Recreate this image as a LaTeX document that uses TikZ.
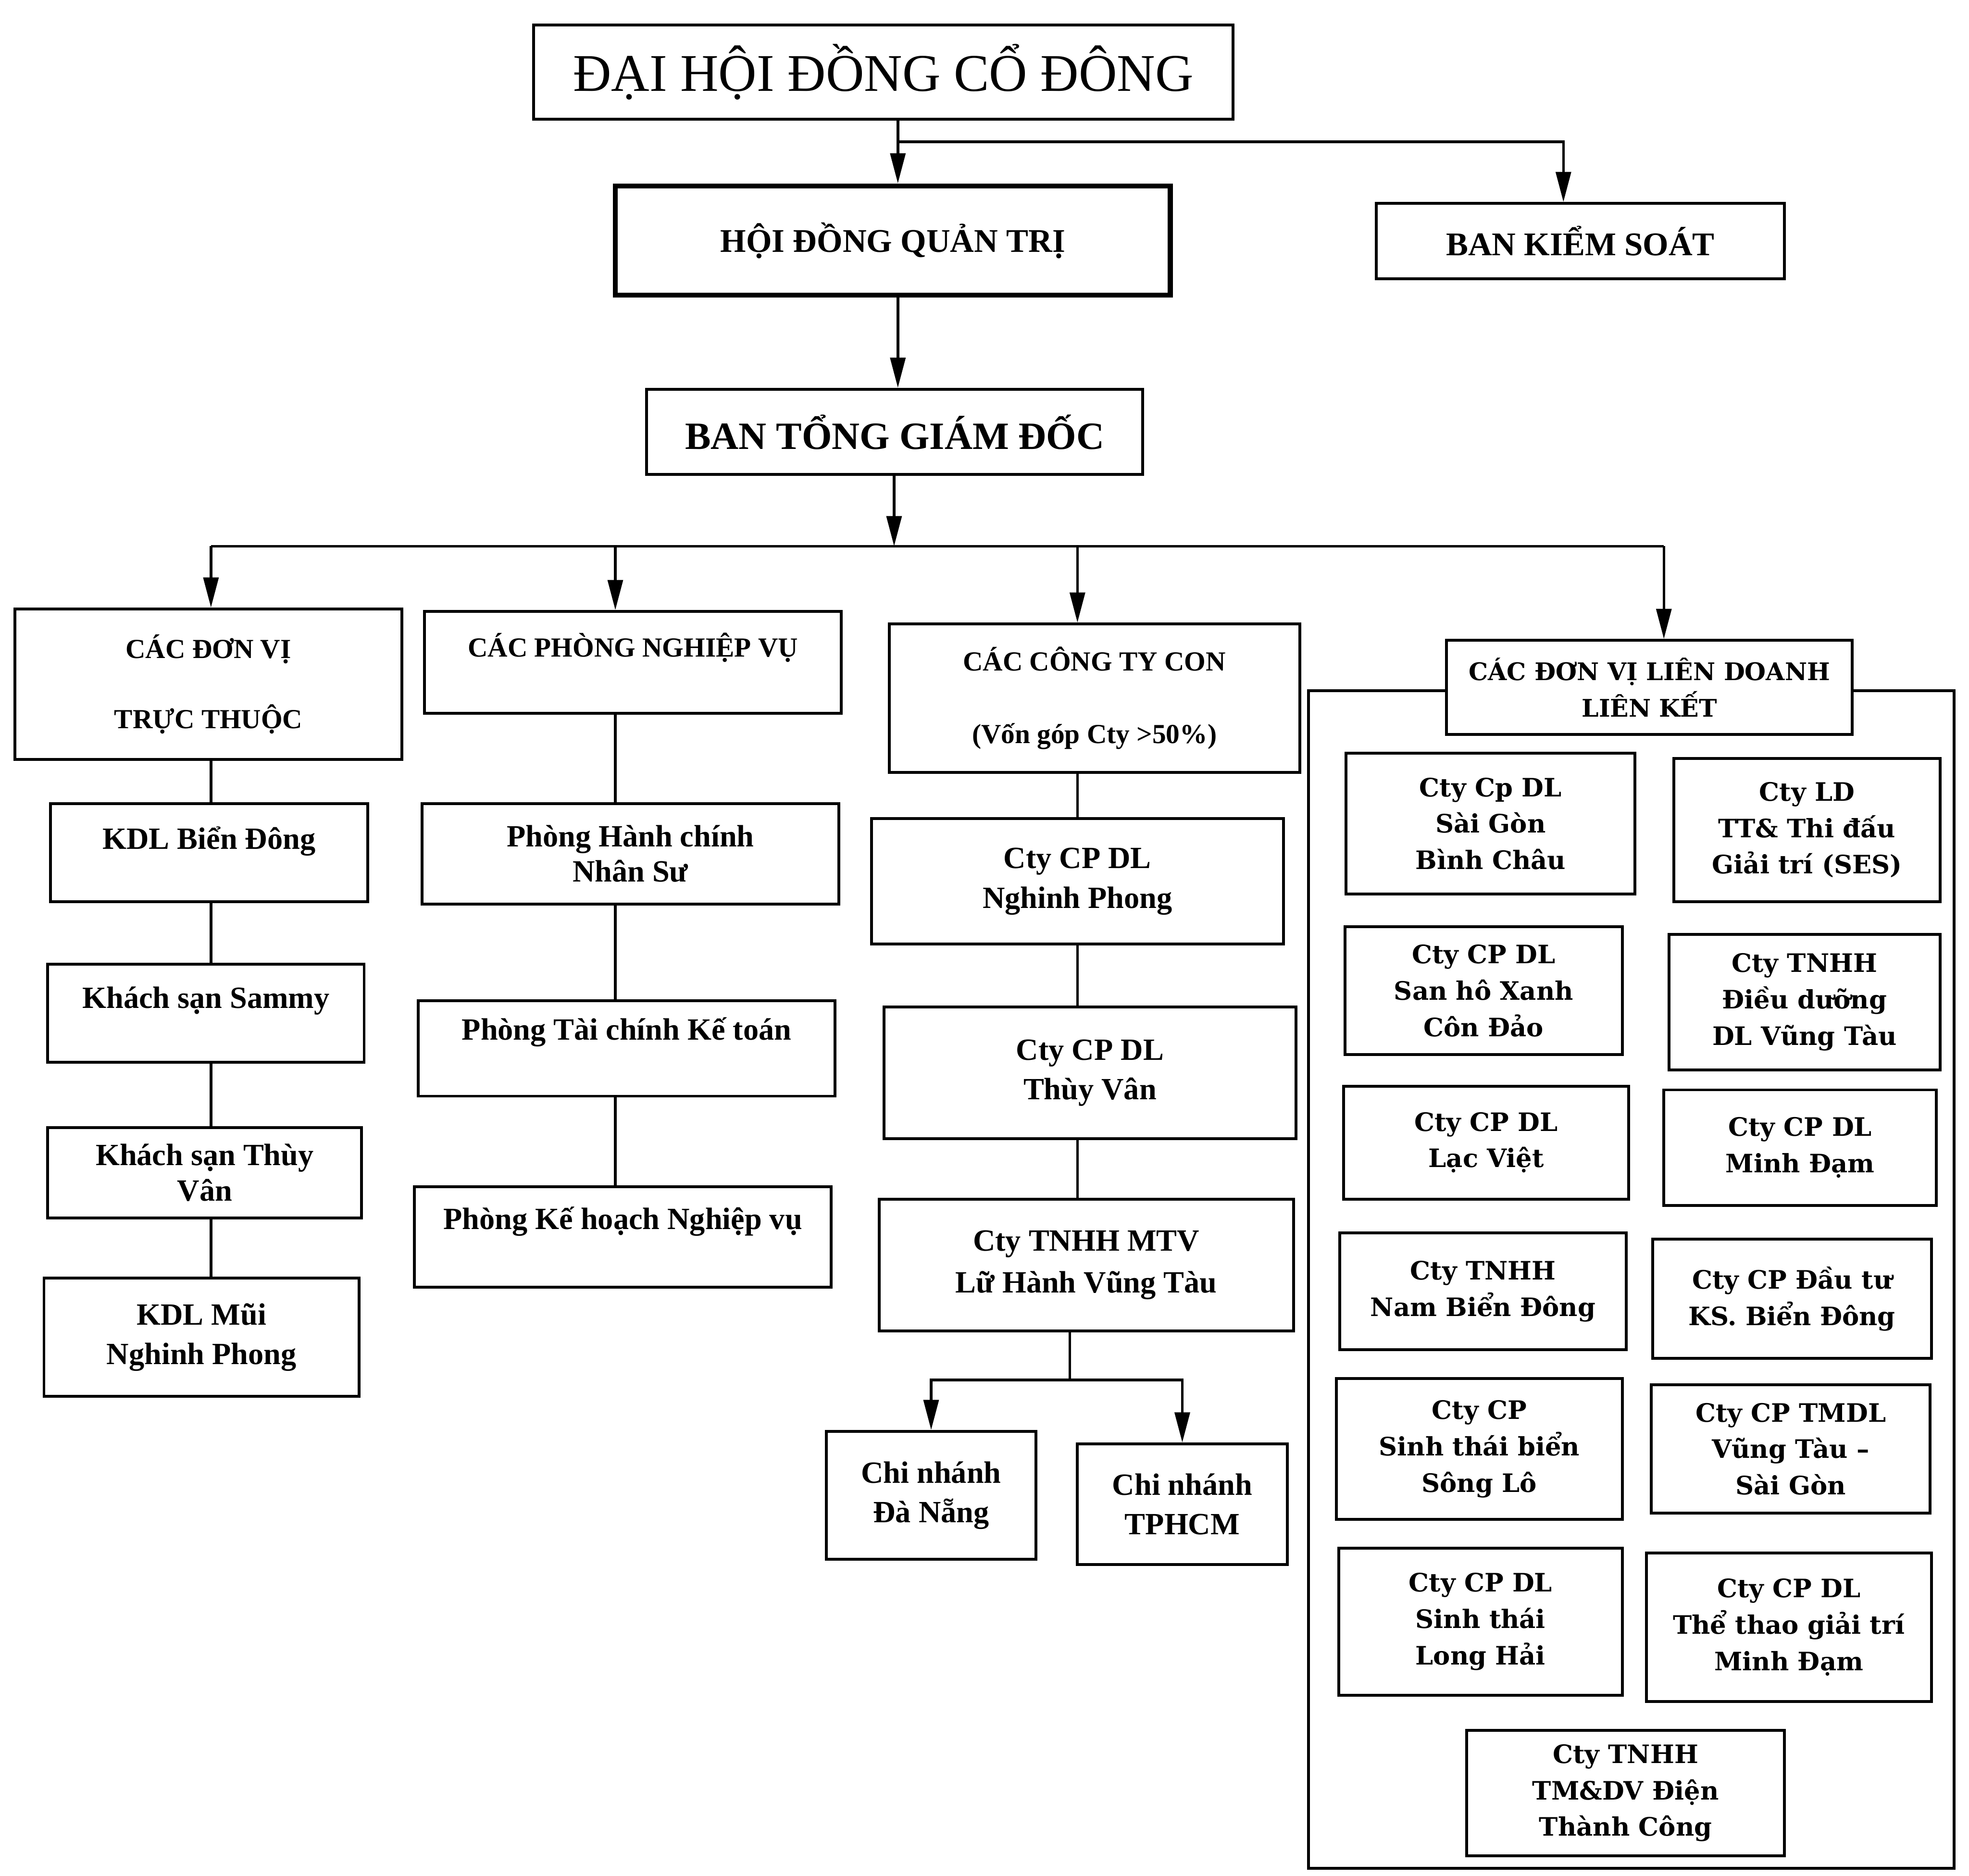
\documentclass[tikz,border=0pt]{standalone}
\usepackage{fontspec}
\setmainfont{Liberation Serif}
\newfontfamily\wideserif{DejaVu Serif}
\usepackage{tikz}
\usetikzlibrary{arrows.meta}

\begin{document}
\begin{tikzpicture}
  [x=0.02cm,y=-0.02cm,
   box/.style={draw,line width=1.3pt,align=center,inner sep=1pt,font=\bfseries\fontsize{14}{18}\selectfont},
   head/.style={box,font=\bfseries\fontsize{12.5}{15}\selectfont},
   unit/.style={draw,line width=1.3pt,align=center,inner sep=1pt,fill=white,font=\wideserif\bfseries\fontsize{11.5}{16.5}\selectfont},
   arr/.style={line width=1.2pt,-{Triangle[length=0.48cm,width=0.24cm]}},
   conn/.style={line width=1.2pt}]

  \useasboundingbox (0,0) rectangle (1568,1494);

  \node[draw,line width=1.3pt,minimum width=11.14cm,minimum height=1.5cm,font=\fontsize{24}{28}\selectfont] (dhdcd) at (703.5,57.5) {ĐẠI HỘI ĐỒNG CỔ ĐÔNG};
  \node[box,line width=2.2pt,minimum width=8.84cm,minimum height=1.74cm,font=\bfseries\fontsize{15}{18}\selectfont] (hdqt) at (711,191.5) {HỘI ĐỒNG QUẢN TRỊ};
  \node[box,minimum width=6.5cm,minimum height=1.2cm,font=\bfseries\fontsize{15}{18}\selectfont] (bks) at (1258.5,192) {BAN KIỂM SOÁT};
  \node[box,minimum width=7.9cm,minimum height=1.36cm,font=\bfseries\fontsize{17.5}{20}\selectfont] (btgd) at (712.5,344) {BAN TỔNG GIÁM ĐỐC};

  \node[head,minimum width=6.16cm,minimum height=2.4cm,font=\bfseries\fontsize{12.5}{31.8}\selectfont] (dvtt) at (166,545) {CÁC ĐƠN VỊ\\TRỰC THUỘC};
  \node[head,minimum width=6.64cm,minimum height=1.62cm,text depth=0.55cm] (cpnv) at (504,527.5) {CÁC PHÒNG NGHIỆP VỤ};
  \node[head,minimum width=6.54cm,minimum height=2.36cm,font=\bfseries\fontsize{12.5}{33}\selectfont] (ctycon) at (871.5,556) {CÁC CÔNG TY CON\\(Vốn góp Cty >50\%)};

  \node[draw,line width=1.3pt,minimum width=10.28cm,minimum height=18.76cm] (lkframe) at (1299,1019) {};
  \node[unit,minimum width=6.46cm,minimum height=1.5cm,font=\wideserif\bfseries\fontsize{11}{16.5}\selectfont] (lk) at (1313.5,547.5) {CÁC ĐƠN VỊ LIÊN DOANH\\LIÊN KẾT};

  \node[box,minimum width=5.06cm,minimum height=1.56cm,text depth=0.47cm] (kdlbd) at (166.5,679) {KDL Biển Đông};
  \node[box,minimum width=5.04cm,minimum height=1.56cm,text depth=0.5cm] (sammy) at (164,807) {Khách sạn Sammy};
  \node[box,minimum width=5cm,minimum height=1.44cm,font=\bfseries\fontsize{14}{16}\selectfont] (ksthuyvan) at (163,934) {Khách sạn Thùy\\Vân};
  \node[box,minimum width=5.02cm,minimum height=1.88cm] (kdlmui) at (160.5,1065) {KDL Mũi\\Nghinh Phong};

  \node[box,minimum width=6.64cm,minimum height=1.6cm,font=\bfseries\fontsize{14}{16}\selectfont] (hcns) at (502,680) {Phòng Hành chính\\Nhân Sư};
  \node[box,minimum width=6.64cm,minimum height=1.52cm,text depth=0.63cm] (tckt) at (499,835) {Phòng Tài chính Kế toán};
  \node[box,minimum width=6.64cm,minimum height=1.6cm,text depth=0.6cm] (khnv) at (496,985) {Phòng Kế hoạch Nghiệp vụ};

  \node[box,minimum width=6.56cm,minimum height=2cm] (nghinhphong) at (858,702) {Cty CP DL\\Nghinh Phong};
  \node[box,minimum width=6.56cm,minimum height=2.1cm] (thuyvan) at (868,854.5) {Cty CP DL\\Thùy Vân};
  \node[box,minimum width=6.6cm,minimum height=2.1cm,font=\bfseries\fontsize{14}{19}\selectfont] (luhanh) at (865,1007.5) {Cty TNHH MTV\\Lữ Hành Vũng Tàu};
  \node[box,minimum width=3.34cm,minimum height=2.04cm] (cndn) at (741.5,1191) {Chi nhánh\\Đà Nẵng};
  \node[box,minimum width=3.34cm,minimum height=1.92cm] (cnhcm) at (941.5,1198) {Chi nhánh\\TPHCM};

  \node[unit,minimum width=4.6cm,minimum height=2.24cm] (sgbc) at (1187,656) {Cty Cp DL\\Sài Gòn\\Bình Châu};
  \node[unit,minimum width=4.24cm,minimum height=2.28cm] (ses) at (1439,661) {Cty LD\\TT\& Thi đấu\\Giải trí (SES)};
  \node[unit,minimum width=4.42cm,minimum height=2.04cm] (sanho) at (1181.5,789) {Cty CP DL\\San hô Xanh\\Côn Đảo};
  \node[unit,minimum width=4.32cm,minimum height=2.16cm] (dieuduong) at (1437,798) {Cty TNHH\\Điều dưỡng\\DL Vũng Tàu};
  \node[unit,minimum width=4.54cm,minimum height=1.8cm] (lacviet) at (1183.5,910) {Cty CP DL\\Lạc Việt};
  \node[unit,minimum width=4.34cm,minimum height=1.84cm] (minhdam) at (1433.5,914) {Cty CP DL\\Minh Đạm};
  \node[unit,minimum width=4.56cm,minimum height=1.86cm] (nambd) at (1181,1028.5) {Cty TNHH\\Nam Biển Đông};
  \node[unit,minimum width=4.44cm,minimum height=1.9cm] (ksbd) at (1427,1034.5) {Cty CP Đầu tư\\KS. Biển Đông};
  \node[unit,minimum width=4.56cm,minimum height=2.24cm] (songlo) at (1178,1154) {Cty CP\\Sinh thái biển\\Sông Lô};
  \node[unit,minimum width=4.44cm,minimum height=2.04cm] (tmdl) at (1426,1154) {Cty CP TMDL\\Vũng Tàu –\\Sài Gòn};
  \node[unit,minimum width=4.52cm,minimum height=2.34cm] (longhai) at (1179,1291.5) {Cty CP DL\\Sinh thái\\Long Hải};
  \node[unit,minimum width=4.54cm,minimum height=2.36cm] (thethao) at (1424.5,1296) {Cty CP DL\\Thể thao giải trí\\Minh Đạm};
  \node[unit,minimum width=5.06cm,minimum height=2cm] (thanhcong) at (1294.5,1428) {Cty TNHH\\TM\&DV Điện\\Thành Công};

  \coordinate (s1) at (715,113);
  \coordinate (s2) at (712,435);
  \coordinate (s3) at (852,1099);
  \coordinate (colA) at (168,0);
  \coordinate (colB) at (490,0);
  \coordinate (colC) at (858,0);
  \coordinate (colD) at (1325,0);
  \coordinate (colK) at (1245,0);

  \draw[arr] (dhdcd.south -| s1) -- (hdqt.north -| s1);
  \draw[arr] (s1) -| (bks.north -| colK);
  \draw[arr] (hdqt.south -| s1) -- (btgd.north -| s1);
  \draw[arr] (btgd.south -| s2) -- (s2);
  \draw[conn] (s2 -| colA) -- (s2 -| colD);
  \foreach \to/\col in {dvtt/colA,cpnv/colB,ctycon/colC,lk/colD}
    \draw[arr] (s2 -| \col) -- (\to.north -| \col);

  \foreach \from/\to/\col in {dvtt/kdlbd/colA,kdlbd/sammy/colA,sammy/ksthuyvan/colA,ksthuyvan/kdlmui/colA,cpnv/hcns/colB,hcns/tckt/colB,tckt/khnv/colB,ctycon/nghinhphong/colC,nghinhphong/thuyvan/colC,thuyvan/luhanh/colC}
    \draw[conn] (\from.south -| \col) -- (\to.north -| \col);

  \draw[conn] (luhanh.south -| s3) -- (s3);
  \draw[arr] (s3) -| (cndn.north);
  \draw[arr] (s3) -| (cnhcm.north);
\end{tikzpicture}
\end{document}
